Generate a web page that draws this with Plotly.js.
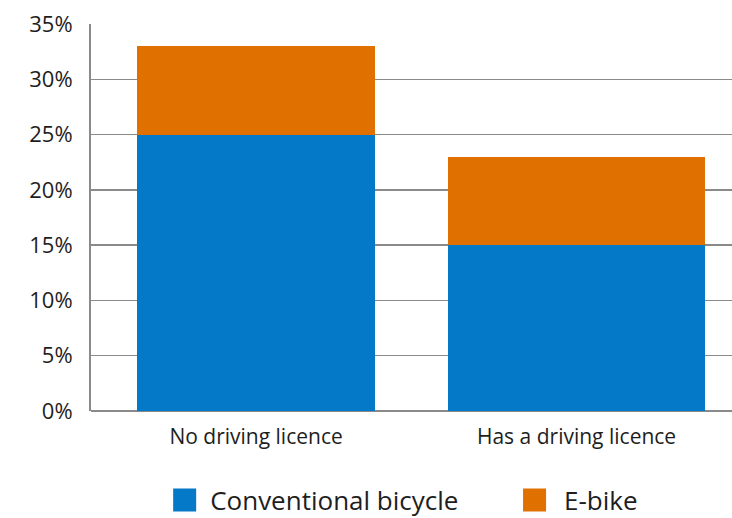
<!DOCTYPE html>
<html>
<head>
<meta charset="utf-8">
<script src="https://cdn.plot.ly/plotly-3.0.1.min.js"></script>
<style>
  html, body { margin: 0; padding: 0; background: #fff; }
  #chart { width: 732px; height: 518px; }
</style>
</head>
<body>
<div id="chart"></div>
<script>
// ---- Data ----
const categories = ["No driving licence", "Has a driving licence"];
const conventionalBicycle = [25, 15];
const eBike = [8, 8];
const seriesNames = ["Conventional bicycle", "E-bike"];
const yTickValues = [0, 5, 10, 15, 20, 25, 30, 35];
const yTickLabels = ["0%", "5%", "10%", "15%", "20%", "25%", "30%", "35%"];

// ---- Style ----
const BLUE = "#0479c8";
const ORANGE = "#e07000";
const GRID = "#8a8a8a";
const TEXT = "#1e1e1e";
const FONT = "Open Sans, Noto Sans, sans-serif";
const barWidths = [0.743, 0.80];
const legendSymbolPaths = [
  "M8.5,11.5H-14.5V-11.5H8.5Z",
  "M4.5,11.5H-18.5V-11.5H4.5Z"
];

const legendStyle = {
  orientation: "h",
  xanchor: "left",
  y: -0.23,
  yanchor: "middle",
  itemwidth: 35,
  font: { size: 26, color: TEXT, family: FONT },
  itemclick: false,
  itemdoubleclick: false,
  bgcolor: "rgba(0,0,0,0)"
};

const traces = [
  {
    type: "bar",
    name: seriesNames[0],
    x: categories,
    y: conventionalBicycle,
    width: barWidths,
    marker: { color: BLUE, line: { width: 0 } },
    legend: "legend",
    hoverinfo: "skip"
  },
  {
    type: "bar",
    name: seriesNames[1],
    x: categories,
    y: eBike,
    width: barWidths,
    marker: { color: ORANGE, line: { width: 0 } },
    legend: "legend2",
    hoverinfo: "skip"
  }
];

const layout = {
  width: 732,
  height: 518,
  barmode: "stack",
  paper_bgcolor: "#fff",
  plot_bgcolor: "#fff",
  margin: { l: 91, r: 0, t: 24, b: 107, pad: 0, autoexpand: false },
  font: { family: FONT, color: TEXT },
  showlegend: true,
  legend: Object.assign({}, legendStyle, { x: 0.1157 }),
  legend2: Object.assign({}, legendStyle, { x: 0.6678 }),
  xaxis: {
    type: "category",
    range: [-0.515, 1.485],
    showgrid: false,
    zeroline: false,
    showline: false,
    ticks: "",
    tickfont: { size: 21, color: TEXT, family: FONT },
    ticklabelstandoff: 11,
    fixedrange: true
  },
  yaxis: {
    range: [0, 35],
    tickvals: yTickValues,
    ticktext: yTickLabels,
    showgrid: true,
    gridcolor: GRID,
    gridwidth: 1.5,
    zeroline: true,
    zerolinecolor: GRID,
    zerolinewidth: 2,
    showline: true,
    linecolor: GRID,
    linewidth: 2,
    ticks: "",
    tickfont: { size: 22, color: TEXT, family: FONT },
    ticklabelstandoff: 12,
    fixedrange: true
  }
};

Plotly.newPlot("chart", traces, layout, { displayModeBar: false, staticPlot: true }).then(function () {
  document.querySelectorAll("#chart .legendpoints path").forEach(function (p, i) {
    p.setAttribute("d", legendSymbolPaths[i] || legendSymbolPaths[0]);
  });
});
</script>
</body>
</html>
